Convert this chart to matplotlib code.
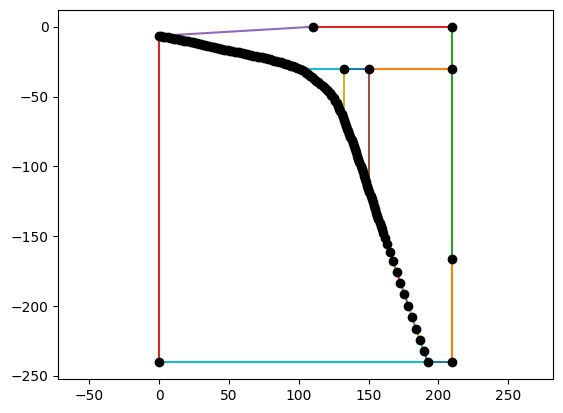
import matplotlib
matplotlib.use("Agg")
import matplotlib.pyplot as plt

# Curve points
curve_x = [0, 1.5, 3, 4.5, 6, 7.5, 9, 10.5, 12, 13.5, 15, 16.5, 18, 19.5, 21,
           22.5, 24, 25.5, 27, 28.5, 30, 31.5, 33, 34.5, 36, 37.5, 39, 40.5, 42,
           43.5, 45, 46.5, 48, 49.5, 51, 52.5, 54, 55.5, 57, 58.5, 60, 61.5, 63,
           64.5, 66, 67.5, 69, 70.5, 72, 73.5, 75, 76.5, 78, 79.5, 81, 82.5, 84,
           85.5, 87, 88.5, 90, 91.5, 93, 94.5, 96, 97.5, 99, 100.5, 102, 103.5,
           105, 106.5, 108, 109.5, 111, 112.5, 114, 115.5, 117, 118.5, 120, 121,
           122, 123, 124, 125, 126, 127, 128, 129, 129.8, 130.6, 131.4, 132.2,
           133.0, 133.8, 134.6, 135.4, 136.2, 137.0, 137.8, 138.6, 139.4, 140.2,
           141.0, 141.8, 142.6, 143.4, 144.2, 145.0, 145.8, 146.6, 147.4, 148.2,
           149.0, 149.8, 150.6, 151.4, 152.2, 153.0, 153.8, 154.6, 155.4, 156.2,
           157.0, 157.8, 158.6, 159.4, 160.3, 161.6, 163.1, 165.2, 167.4, 170.0,
           172.8, 175.6, 178.4, 181.1, 183.8, 186.6, 189.5, 192.4]
curve_y = [-6.5, -6.8, -7.0, -7.3, -7.5, -7.8, -8.1, -8.4, -8.7, -9.0, -9.3,
           -9.6, -9.9, -10.2, -10.5, -10.9, -11.2, -11.6, -11.9, -12.3, -12.6,
           -13.0, -13.3, -13.7, -14.0, -14.4, -14.8, -15.1, -15.4, -15.7, -16.0,
           -16.3, -16.6, -16.9, -17.2, -17.5, -17.8, -18.1, -18.4, -18.7, -19.0,
           -19.3, -19.6, -19.9, -20.3, -20.6, -20.9, -21.3, -21.6, -21.9, -22.3,
           -22.6, -23.0, -23.3, -23.7, -24.2, -24.5, -24.9, -25.3, -25.7, -26.3,
           -26.8, -27.3, -27.8, -28.4, -29.0, -29.7, -30.4, -31.2, -32.0, -32.9,
           -33.9, -34.9, -36.1, -37.3, -38.5, -39.7, -41.0, -42.3, -43.7, -45.2,
           -46.3, -47.4, -48.5, -49.8, -51.2, -52.8, -54.5, -56.5, -58.6, -60.6,
           -62.6, -64.6, -66.7, -68.8, -70.8, -72.9, -74.9, -77.0, -79.1, -81.2,
           -83.3, -85.4, -87.6, -89.8, -92.2, -94.6, -97.0, -99.4, -101.8, -104.2,
           -106.6, -109.0, -111.4, -113.8, -116.2, -118.6, -121.0, -123.4, -125.8,
           -128.2, -130.6, -133.0, -135.4, -137.8, -140.2, -142.6, -145.0, -147.7,
           -151.3, -155.2, -161.4, -167.9, -175.4, -183.2, -191.4, -199.6, -207.9,
           -216.1, -224.3, -232.4, -240.2]

# Frame segments: (x1, y1, x2, y2)
seg_x1 = [0, 110, 210, 210, 150, 132, 132, 150, 210, 210, 192.4, 0]
seg_y1 = [-6.5, 0, 0, -30, -30, -30, -30, -30, -166.5, -240, -240, -240]
seg_x2 = [110, 210, 210, 150, 132, 100, 132, 150, 210, 192.4, 0, 0]
seg_y2 = [0, 0, -166.5, -30, -30, -30, -66, -117, -240, -240, -240, -6.5]
seg_colors = ["C4", "C3", "C2", "C1", "C0", "C9", "C8", "C5", "C1", "C0", "C9", "C3"]

# Marked vertices
vert_x = [110, 210, 210, 132, 150, 210, 210, 0]
vert_y = [0, 0, -30, -30, -30, -166.5, -240, -240]

fig = plt.figure(figsize=(5.63, 4.13), dpi=100)
ax = fig.add_axes([58.3 / 563, 34 / 413, 495 / 563, 369 / 413])

for i in range(len(curve_x) - 1):
    ax.plot(curve_x[i:i + 2], curve_y[i:i + 2], color=f"C{i % 10}", lw=1.5)

for x1, y1, x2, y2, c in zip(seg_x1, seg_y1, seg_x2, seg_y2, seg_colors):
    ax.plot([x1, x2], [y1, y2], color=c, lw=1.5)

ax.plot(curve_x, curve_y, "ko", zorder=3)
ax.plot(vert_x, vert_y, "ko", zorder=3)

ax.set_aspect("equal", adjustable="datalim")

fig.savefig("out.png", dpi=100)
